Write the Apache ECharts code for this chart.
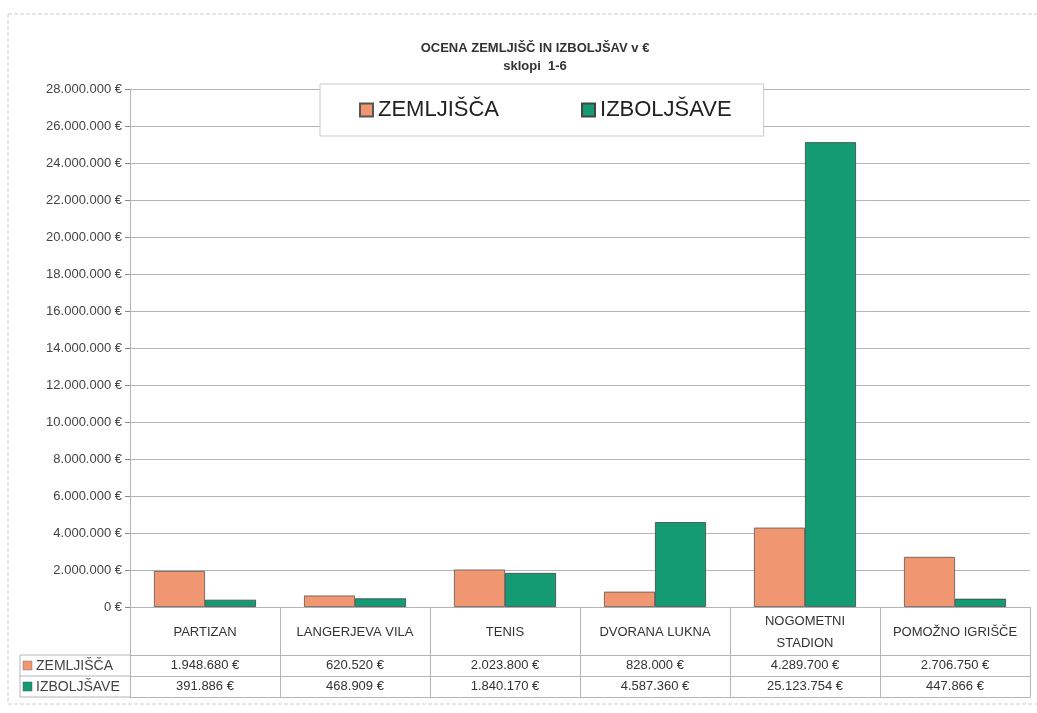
<!DOCTYPE html>
<html>
<head>
<meta charset="utf-8">
<title>Ocena zemljišč in izboljšav</title>
<script src="https://cdn.jsdelivr.net/npm/echarts@6/dist/echarts.min.js"></script>
<style>
	html, body { margin: 0; padding: 0; background: #fff; }
	#chart { width: 1037px; height: 713px; }
</style>
</head>
<body>
<div id="chart"></div>
<script>
	// podatki
	const categories = ['PARTIZAN', 'LANGERJEVA VILA', 'TENIS', 'DVORANA LUKNA', 'NOGOMETNI\nSTADION', 'POMOŽNO IGRIŠČE']
	const seriesNames = ['ZEMLJIŠČA', 'IZBOLJŠAVE']
	const zemljisca = [1948680, 620520, 2023800, 828000, 4289700, 2706750]
	const izboljsave = [391886, 468909, 1840170, 4587360, 25123754, 447866]
	const yTickLabels = ['0 €', '2.000.000 €', '4.000.000 €', '6.000.000 €', '8.000.000 €', '10.000.000 €',
		'12.000.000 €', '14.000.000 €', '16.000.000 €', '18.000.000 €', '20.000.000 €', '22.000.000 €',
		'24.000.000 €', '26.000.000 €', '28.000.000 €']

	const font = "'Liberation Sans', Arial, sans-serif"
	const orange = '#F09670'
	const green = '#149B74'
	const lineColor = '#b5b5b5'

	const money = v => String(v).replace(/\B(?=(\d{3})+(?!\d))/g, '.') + ' €'

	// vrstica tabele pod osjo x
	const tableAxis = (offset, labels) => ({
		type: 'category',
		data: categories,
		position: 'bottom',
		offset: offset,
		axisLine: { show: true, lineStyle: { color: lineColor, width: 1 } },
		axisTick: { show: false },
		axisLabel: {
			show: labels != null,
			interval: 0,
			margin: 4,
			fontFamily: font,
			fontSize: 13,
			color: '#333',
			formatter: (v, i) => labels ? labels[i] : ''
		}
	})

	const myChart = echarts.init(document.getElementById('chart'))

	const option = {
		backgroundColor: '#fff',
		animation: false,
		title: {
			text: 'OCENA ZEMLJIŠČ IN IZBOLJŠAV v €',
			subtext: 'sklopi  1-6',
			left: 530,
			top: 37,
			textAlign: 'center',
			itemGap: 5,
			textStyle: { fontFamily: font, fontSize: 13, fontWeight: 'bold', color: '#333' },
			subtextStyle: { fontFamily: font, fontSize: 13, fontWeight: 'bold', color: '#333' }
		},
		legend: {
			data: seriesNames,
			left: 320,
			top: 84,
			icon: 'rect',
			itemWidth: 13,
			itemHeight: 13,
			itemGap: 82,
			padding: [15, 32, 15, 39],
			backgroundColor: '#fff',
			borderColor: '#c8c8c8',
			borderWidth: 1,
			textStyle: { fontFamily: font, fontSize: 22, color: '#222' }
		},
		grid: {
			left: 130,
			right: 7,
			top: 89,
			bottom: 106,
			containLabel: false
		},
		xAxis: [{
			type: 'category',
			data: categories,
			position: 'bottom',
			axisLine: { show: true, lineStyle: { color: lineColor, width: 1 } },
			axisTick: { show: true, length: 90, lineStyle: { color: lineColor } },
			axisLabel: {
				interval: 0,
				margin: 25,
				verticalAlign: 'middle',
				fontFamily: font,
				fontSize: 13,
				lineHeight: 22,
				color: '#333'
			}
		},
			tableAxis(48, zemljisca.map(money)),
			tableAxis(69, izboljsave.map(money)),
			tableAxis(90, null)
		],
		yAxis: {
			type: 'value',
			min: 0,
			max: 28000000,
			interval: 2000000,
			axisLine: { show: true, lineStyle: { color: lineColor } },
			axisTick: { show: true, length: 5, lineStyle: { color: '#888' } },
			splitLine: { lineStyle: { color: lineColor, width: 1 } },
			axisLabel: {
				margin: 8,
				fontFamily: font,
				fontSize: 13,
				color: '#444',
				formatter: v => yTickLabels[Math.round(v / 2000000)]
			}
		},
		series: [{
			name: seriesNames[0],
			type: 'bar',
			xAxisIndex: 0,
			barGap: '0%',
			barCategoryGap: '32%',
			itemStyle: { color: orange, borderColor: '#555', borderWidth: 0.8 },
			data: zemljisca
		}, {
			name: seriesNames[1],
			type: 'bar',
			xAxisIndex: 0,
			itemStyle: { color: green, borderColor: '#444', borderWidth: 0.8 },
			data: izboljsave
		}],
		graphic: [
			// okvir
			{ type: 'rect', shape: { x: 8, y: 14, width: 1040, height: 690 }, style: { fill: null, stroke: '#cfcfcf', lineWidth: 1, lineDash: [4, 2] }, silent: true },
			// levi stolpec tabele
			{ type: 'line', shape: { x1: 20, y1: 655, x2: 130, y2: 655 }, style: { stroke: lineColor } },
			{ type: 'line', shape: { x1: 20, y1: 676, x2: 130, y2: 676 }, style: { stroke: lineColor } },
			{ type: 'line', shape: { x1: 20, y1: 697, x2: 130, y2: 697 }, style: { stroke: lineColor } },
			{ type: 'line', shape: { x1: 20, y1: 655, x2: 20, y2: 697 }, style: { stroke: lineColor } },
			{ type: 'rect', shape: { x: 23, y: 661, width: 9, height: 9 }, style: { fill: orange, stroke: '#777', lineWidth: 0.5 } },
			{ type: 'text', x: 36, y: 666, style: { text: seriesNames[0], font: '14px ' + font, fill: '#444', verticalAlign: 'middle' } },
			{ type: 'rect', shape: { x: 23, y: 682, width: 9, height: 9 }, style: { fill: green, stroke: '#555', lineWidth: 0.5 } },
			{ type: 'text', x: 36, y: 687, style: { text: seriesNames[1], font: '14px ' + font, fill: '#444', verticalAlign: 'middle' } }
		]
	}

	myChart.setOption(option)
</script>
</body>
</html>
